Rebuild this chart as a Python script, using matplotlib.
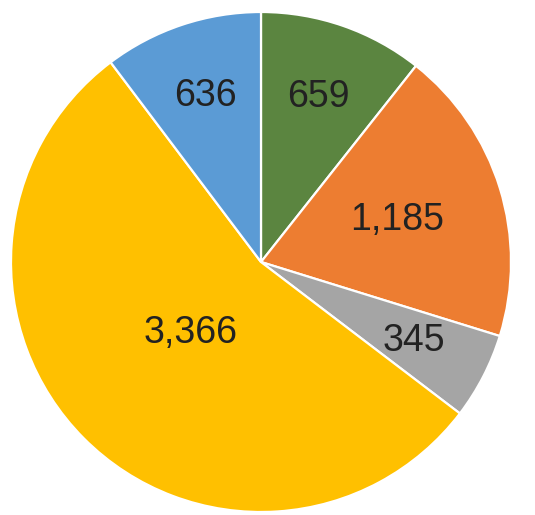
import matplotlib
matplotlib.use("Agg")
import matplotlib.pyplot as plt
import numpy as np

labels = ["659", "1,185", "345", "3,366", "636"]
values = [659, 1185, 345, 3366, 636]
colors = ["#5B8540", "#ED7D31", "#A5A5A5", "#FFC000", "#5B9BD5"]
label_dist = [0.70, 0.57, 0.69, 0.40, 0.70]

fig = plt.figure(figsize=(5.35, 5.15), dpi=100)
cx, cy, R = 261, 262, 250
ax = fig.add_axes([(cx - R) / 535, (515 - cy - R) / 515, 2 * R / 535, 2 * R / 515])
wedges, _ = ax.pie(values, colors=colors, startangle=90, counterclock=False,
                   radius=1.0, wedgeprops=dict(edgecolor="white", linewidth=1.6))
ax.set_xlim(-1, 1)
ax.set_ylim(-1, 1)
ax.set_aspect("auto")
ax.axis("off")

for w, lab, d in zip(wedges, labels, label_dist):
    ang = np.deg2rad((w.theta1 + w.theta2) / 2)
    ax.text(d * np.cos(ang), d * np.sin(ang), lab, ha="center", va="center",
            fontsize=27, color="#222222", family=["Liberation Sans", "DejaVu Sans"])

fig.savefig("out.png", dpi=100)
